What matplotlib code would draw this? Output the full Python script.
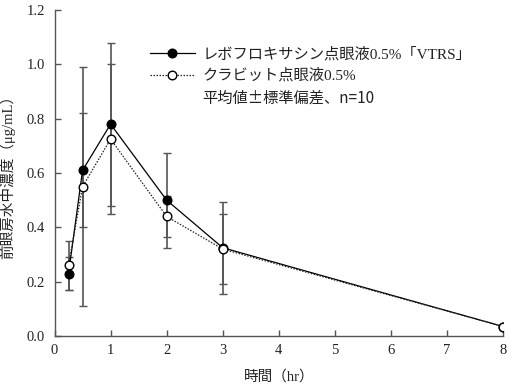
import matplotlib
matplotlib.use("Agg")
import matplotlib.pyplot as plt
from matplotlib.lines import Line2D

plt.rcParams['font.family'] = ['Liberation Serif', 'Noto Sans CJK JP', 'DejaVu Sans']

time_hr = [0.25, 0.5, 1, 2, 3, 8]
vtrs_mean = [0.23, 0.61, 0.78, 0.50, 0.325, 0.035]
vtrs_sd = [0.06, 0.21, 0.30, 0.175, 0.17, 0.0]
cravit_mean = [0.26, 0.55, 0.725, 0.44, 0.32, 0.035]
cravit_sd = [0.09, 0.44, 0.275, 0.075, 0.13, 0.0]

labels = ["レボフロキサシン点眼液0.5%「VTRS」", "クラビット点眼液0.5%", "平均値±標準偏差、n=10"]
xticks = [0, 1, 2, 3, 4, 5, 6, 7, 8]
yticks = [0.0, 0.2, 0.4, 0.6, 0.8, 1.0, 1.2]

fig = plt.figure(figsize=(5.12, 3.86), dpi=100)
ax = fig.add_axes([0.1065, 0.1295, 0.8760, 0.8445])

grey = '#555555'
ax.errorbar(time_hr, vtrs_mean, yerr=vtrs_sd, fmt='none', ecolor=grey, elinewidth=1.2,
            capsize=2.6, capthick=1.0, zorder=1)
ax.errorbar(time_hr, cravit_mean, yerr=cravit_sd, fmt='none', ecolor=grey, elinewidth=1.2,
            capsize=2.6, capthick=1.0, zorder=1)
ax.plot(time_hr, vtrs_mean, linestyle='-', color='black', lw=0.9,
        marker='o', markersize=6.2, markerfacecolor='black', markeredgecolor='black',
        markeredgewidth=1.0, zorder=3)
ax.plot(time_hr, cravit_mean, linestyle=(0, (1.2, 1.2)), color='#222222', lw=0.9,
        marker='o', markersize=6.2, markerfacecolor='white', markeredgecolor='black',
        markeredgewidth=1.0, zorder=4)

ax.set_xlim(0, 8)
ax.set_ylim(0, 1.2)
ax.set_xticks(xticks)
ax.set_xticklabels([str(v) for v in xticks])
ax.set_yticks(yticks)
ax.set_yticklabels([f"{v:.1f}" for v in yticks])
for s in ['top', 'right']:
    ax.spines[s].set_visible(False)
for s in ['left', 'bottom']:
    ax.spines[s].set_color(grey)
    ax.spines[s].set_linewidth(1.0)
ax.tick_params(axis='both', direction='in', length=4, width=1.0, color=grey,
               labelsize=10.5, labelcolor='#222222')
ax.tick_params(axis='y', pad=7)
ax.tick_params(axis='x', pad=6)

ax.set_xlabel("時間（hr）", fontsize=10.5, color='#222222', labelpad=9)
ax.set_ylabel("前眼房水中濃度（μg/mL）", fontsize=10.5, color='#222222', labelpad=8)

handles = [
    Line2D([], [], color='black', lw=0.9, marker='o', markersize=6.2,
           markerfacecolor='black', markeredgecolor='black'),
    Line2D([], [], color='#222222', lw=0.9, linestyle=(0, (1.2, 1.2)), marker='o',
           markersize=6.2, markerfacecolor='white', markeredgecolor='black'),
    Line2D([], [], color='none', lw=0),
]
leg = ax.legend(handles, labels, loc='upper left', bbox_to_anchor=(0.2, 0.905),
                frameon=False, fontsize=11, handlelength=2.9, handletextpad=0.5,
                labelspacing=0.45, borderaxespad=0)
texts = leg.get_texts()
for t in texts:
    t.set_color('#222222')
texts[2].set_family(['Noto Sans CJK JP', 'Liberation Serif'])

fig.savefig("out.png", dpi=100)
